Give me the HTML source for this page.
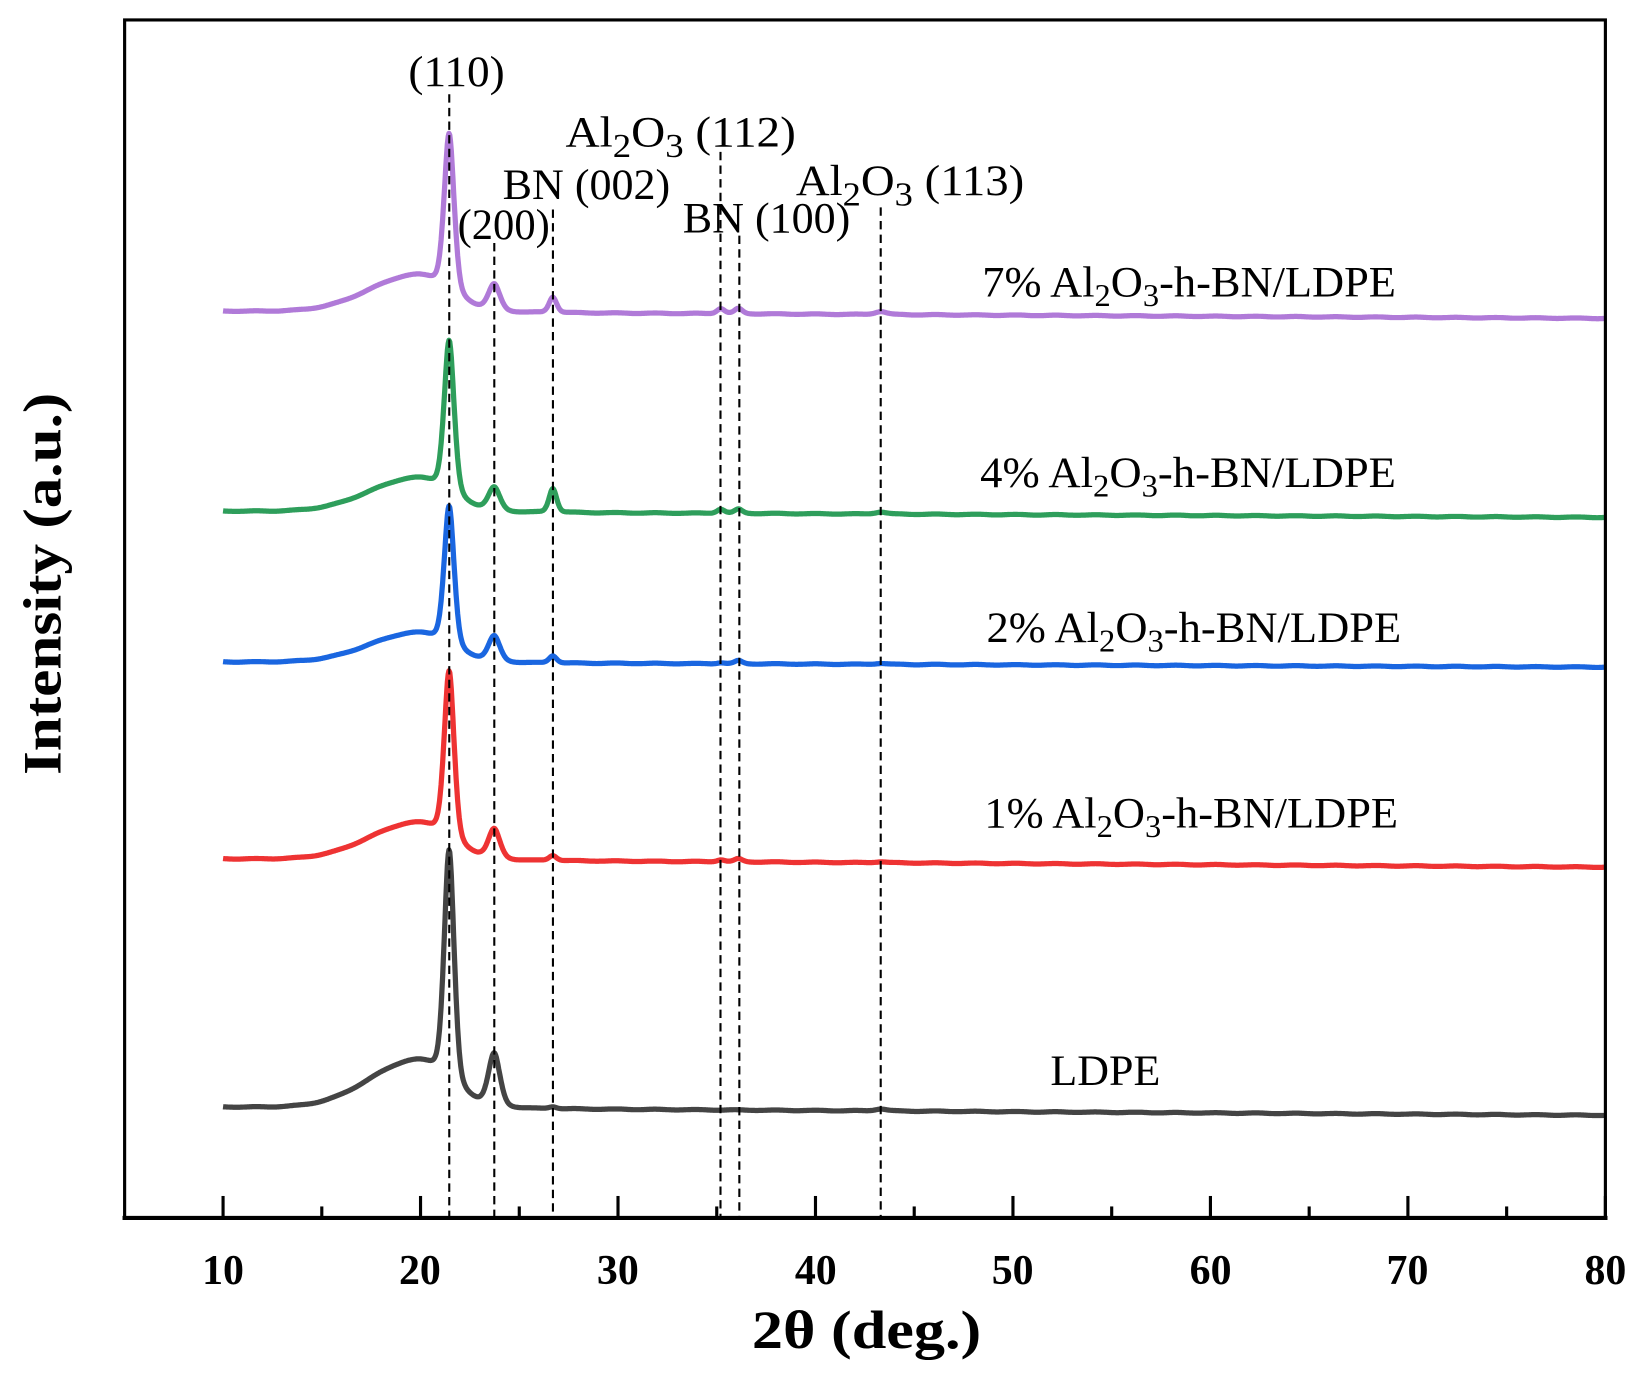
<!DOCTYPE html>
<html><head><meta charset="utf-8"><style>
html,body{margin:0;padding:0;background:#fff;}
svg{display:block;}
text{font-family:"Liberation Serif",serif;fill:#000;}
</style></head><body>
<svg id="s" width="1641" height="1373" viewBox="0 0 1567 1311" xmlns="http://www.w3.org/2000/svg">
<rect x="0" y="0" width="1567" height="1311" fill="#fff"/>
<g id="curves" fill="none" stroke-width="5" stroke-linejoin="round"></g>
<g stroke="#000" stroke-width="2" stroke-dasharray="8,5">
<line x1="429" y1="90" x2="429" y2="1162"/>
<line x1="472" y1="232" x2="472" y2="1162"/>
<line x1="528" y1="200" x2="528" y2="1162"/>
<line x1="688" y1="145" x2="688" y2="1162"/>
<line x1="706" y1="225" x2="706" y2="1162"/>
<line x1="841" y1="198" x2="841" y2="1162"/>
</g>
<g id="ticks" stroke="#000" stroke-width="3"></g>
<rect x="119" y="19" width="1414" height="1144" fill="none" stroke="#000" stroke-width="3"/>
<line x1="117" y1="1163" x2="1535" y2="1163" stroke="#000" stroke-width="4"/>
<g font-size="41" lengthAdjust="spacingAndGlyphs">
<text x="390" y="82" textLength="92" lengthAdjust="spacingAndGlyphs">(110)</text>
<text x="437" y="228" textLength="88" lengthAdjust="spacingAndGlyphs">(200)</text>
<text x="480" y="190" textLength="160" lengthAdjust="spacingAndGlyphs">BN (002)</text>
<text x="540" y="140" textLength="220" lengthAdjust="spacingAndGlyphs">Al<tspan font-size="32" dy="10">2</tspan><tspan dy="-10">O</tspan><tspan font-size="32" dy="10">3</tspan><tspan dy="-10"> (112)</tspan></text>
<text x="652" y="222" textLength="160" lengthAdjust="spacingAndGlyphs">BN (100)</text>
<text x="760" y="186" textLength="218" lengthAdjust="spacingAndGlyphs">Al<tspan font-size="32" dy="10">2</tspan><tspan dy="-10">O</tspan><tspan font-size="32" dy="10">3</tspan><tspan dy="-10"> (113)</tspan></text>
<text x="938" y="283" textLength="395" lengthAdjust="spacingAndGlyphs">7% Al<tspan font-size="30" dy="9">2</tspan><tspan dy="-9">O</tspan><tspan font-size="30" dy="9">3</tspan><tspan dy="-9">-h-BN/LDPE</tspan></text>
<text x="936" y="465" textLength="397" lengthAdjust="spacingAndGlyphs">4% Al<tspan font-size="30" dy="9">2</tspan><tspan dy="-9">O</tspan><tspan font-size="30" dy="9">3</tspan><tspan dy="-9">-h-BN/LDPE</tspan></text>
<text x="942" y="613" textLength="396" lengthAdjust="spacingAndGlyphs">2% Al<tspan font-size="30" dy="9">2</tspan><tspan dy="-9">O</tspan><tspan font-size="30" dy="9">3</tspan><tspan dy="-9">-h-BN/LDPE</tspan></text>
<text x="940" y="790" textLength="395" lengthAdjust="spacingAndGlyphs">1% Al<tspan font-size="30" dy="9">2</tspan><tspan dy="-9">O</tspan><tspan font-size="30" dy="9">3</tspan><tspan dy="-9">-h-BN/LDPE</tspan></text>
<text x="1003" y="1036" textLength="105" lengthAdjust="spacingAndGlyphs">LDPE</text>
</g>
<g font-size="40" font-weight="bold" text-anchor="middle">
<text x="213" y="1226">10</text><text x="401" y="1226">20</text><text x="590" y="1226">30</text><text x="779" y="1226">40</text>
<text x="967" y="1226">50</text><text x="1156" y="1226">60</text><text x="1344" y="1226">70</text><text x="1533" y="1226">80</text>
</g>
<text x="718" y="1287" font-size="52" font-weight="bold" textLength="219" lengthAdjust="spacingAndGlyphs">2θ (deg.)</text>
<text transform="translate(58,740) rotate(-90)" font-size="52" font-weight="bold" textLength="365" lengthAdjust="spacingAndGlyphs">Intensity (a.u.)</text>
</svg>
<script>
var NS="http://www.w3.org/2000/svg";
function X(d){return 213+(d-10)*18.857;}
var tk=document.getElementById('ticks');
for(var d=10;d<=80;d+=5){var l=document.createElementNS(NS,'line');var x=X(d);l.setAttribute('x1',x);l.setAttribute('x2',x);l.setAttribute('y1',d%10==0?1142:1152);l.setAttribute('y2',1163);tk.appendChild(l);}
var pos=[21.45,23.73,26.7,35.2,36.1,43.3],sig=[0.26,0.3,0.2,0.2,0.2,0.3];
var S=[
{c:'#444444',b0:1057,b1:1065,h:45,p:[220,50,2,0,0,2]},
{c:'#ee3333',b0:820,b1:828,h:35,p:[160,28,5,2,3,1]},
{c:'#1a66e0',b0:632,b1:637,h:28,p:[133,24,7,1,3,1]},
{c:'#2e9e5b',b0:488,b1:494,h:32,p:[145,22,23,4,4,2]},
{c:'#b07ad8',b0:297,b1:304,h:35,p:[150,25,15,5,5,3]}];
var g=document.getElementById('curves');
S.forEach(function(s){var pts=[];for(var d=10;d<=80.001;d+=0.04){
var y=s.b0+(s.b1-s.b0)*(d-10)/70;
var hs=d<19.8?2.4:1.6;y-=s.h*Math.exp(-Math.pow(d-19.8,2)/(2*hs*hs));
for(var i=0;i<6;i++){var z=(d-pos[i])/sig[i];y-=s.p[i]*(0.7*Math.exp(-z*z/2)+0.3/(1+z*z));}
y+=Math.sin(d*3.1)*0.3;
pts.push(X(d).toFixed(1)+','+y.toFixed(1));}
var p=document.createElementNS(NS,'path');p.setAttribute('d','M'+pts.join('L'));p.setAttribute('stroke',s.c);g.appendChild(p);});
</script>
</body></html>
